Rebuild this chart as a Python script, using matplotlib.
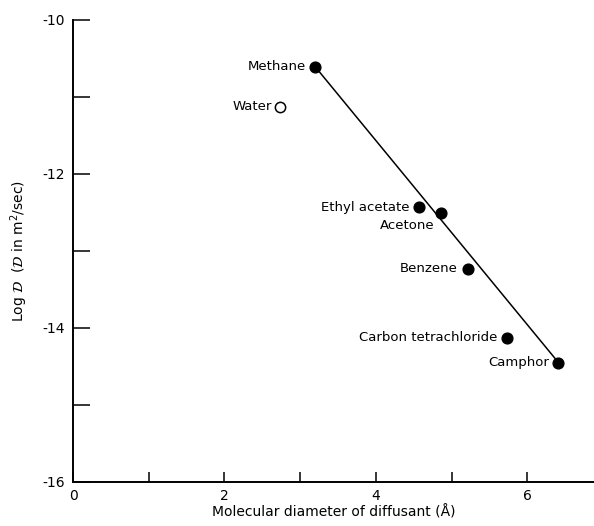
import numpy as np
import matplotlib.pyplot as plt
from matplotlib.ticker import MultipleLocator

plt.rcParams["axes.unicode_minus"] = False

# data
solid_names = ["Methane", "Ethyl acetate", "Acetone", "Benzene",
               "Carbon tetrachloride", "Camphor"]
solid_x = [3.20, 4.57, 4.86, 5.21, 5.73, 6.41]
solid_y = [-10.61, -12.43, -12.51, -13.23, -14.13, -14.45]

water_x = [2.73]
water_y = [-11.13]

line_x = [3.20, 6.41]
line_y = [-10.61, -14.45]

# label offsets in points (dx, dy) relative to each dot
label_offsets = [(-7, 0), (-7, 0), (-5, -9), (-7, 0), (-7, 0), (-7, 0)]

fig = plt.figure(figsize=(5.94, 5.26), dpi=100)
ax = fig.add_axes([0.123, 0.084, 0.877, 0.878])

ax.plot(line_x, line_y, color="black", lw=1.1, zorder=2)
ax.scatter(solid_x, solid_y, s=60, color="black", zorder=3)
ax.scatter(water_x, water_y, s=55, facecolors="white", edgecolors="black",
           linewidths=1.1, zorder=3)

for name, x, y, (dx, dy) in zip(solid_names, solid_x, solid_y, label_offsets):
    ax.annotate(name, (x, y), xytext=(dx, dy), textcoords="offset points",
                ha="right", va="center", fontsize=9.5)
ax.annotate("Water", (water_x[0], water_y[0]), xytext=(-6, 0),
            textcoords="offset points", ha="right", va="center", fontsize=9.5)

ax.set_xlim(0, 6.88)
ax.set_ylim(-16, -10)

ax.xaxis.set_major_locator(MultipleLocator(2))
ax.xaxis.set_minor_locator(MultipleLocator(1))
ax.yaxis.set_major_locator(MultipleLocator(2))
ax.yaxis.set_minor_locator(MultipleLocator(1))
ax.tick_params(which="both", direction="in", width=1.1, labelsize=10)
ax.tick_params(axis="y", which="both", length=12, pad=6)
ax.tick_params(axis="x", which="both", length=7, pad=5)

for side in ["top", "right"]:
    ax.spines[side].set_visible(False)
for side in ["left", "bottom"]:
    ax.spines[side].set_linewidth(1.4)

ax.set_xlabel("Molecular diameter of diffusant (Å)", fontsize=10, labelpad=2)
ax.set_ylabel(r"Log $\mathcal{D}$  ($\mathcal{D}$ in m$^2$/sec)", fontsize=10,
              labelpad=9)

fig.savefig("out.png", dpi=100)
